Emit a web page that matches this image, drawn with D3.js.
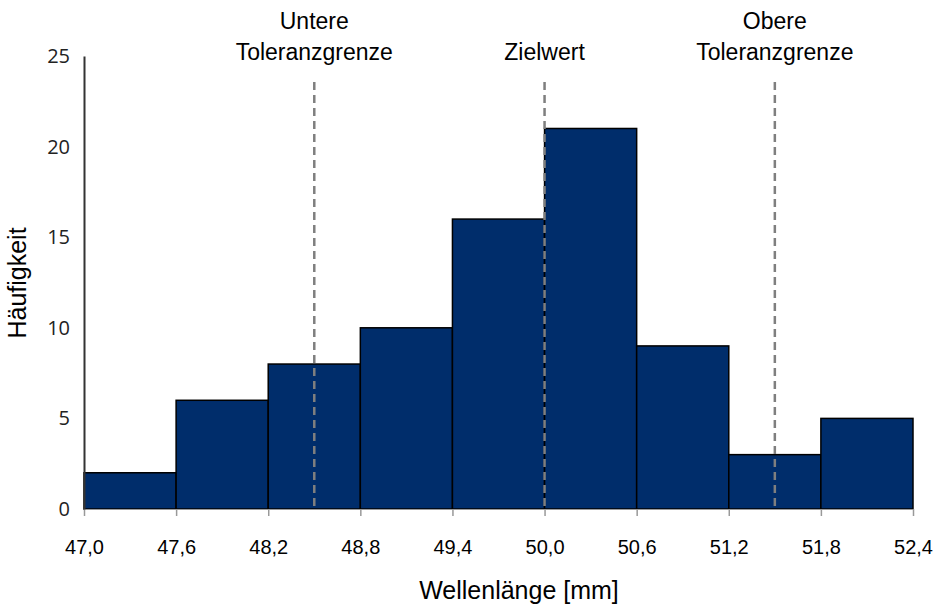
<!DOCTYPE html>
<html><head><meta charset="utf-8">
<script src="https://cdn.jsdelivr.net/npm/d3@7"></script>
<style>body{margin:0;background:#fff}svg{display:block}</style>
</head><body>
<svg id="c" width="945" height="616"></svg>
<script>
const binEdges = [47.0, 47.6, 48.2, 48.8, 49.4, 50.0, 50.6, 51.2, 51.8, 52.4];
const counts = [2, 6, 8, 10, 16, 21, 9, 3, 5];
const yTicks = [0, 5, 10, 15, 20, 25];
const refValues = [48.5, 50.0, 51.5];
const refLabels = [["Untere", "Toleranzgrenze"], ["Zielwert"], ["Obere", "Toleranzgrenze"]];
const xTitle = "Wellenlänge [mm]";
const yTitle = "Häufigkeit";

const svg = d3.select("#c");
const font = "'Liberation Sans', Arial, sans-serif";
const x = d3.scaleLinear().domain([47.0, 52.4]).range([84, 913]);
const y = d3.scaleLinear().domain([0, 25]).range([509, 56]);

const bins = counts.map((c, i) => ({x0: binEdges[i], x1: binEdges[i + 1], c}));

svg.append("g").selectAll("rect").data(bins).join("rect")
  .attr("x", d => x(d.x0)).attr("width", d => x(d.x1) - x(d.x0))
  .attr("y", d => y(d.c)).attr("height", d => y(0) - y(d.c))
  .attr("fill", "#002d6b").attr("stroke", "#000").attr("stroke-width", 1.5);

// x axis
const fmt = d => d.toFixed(1).replace(".", ",");
const xa = svg.append("g").attr("transform", `translate(0,${y(0)})`)
  .call(d3.axisBottom(x).tickValues(binEdges).tickFormat(fmt).tickSize(7).tickPadding(24));
xa.select(".domain").attr("stroke", "#999").attr("stroke-width", 1);
xa.selectAll(".tick line").attr("stroke", "#999").attr("stroke-width", 1.5);
xa.selectAll("text").attr("font-family", font).attr("font-size", 20).attr("fill", "#000");

// y axis
const ya = svg.append("g").attr("transform", `translate(${x(47.0)},0)`)
  .call(d3.axisLeft(y).tickValues(yTicks).tickSize(0).tickPadding(14));
ya.select(".domain").attr("stroke", "#333").attr("stroke-width", 2);
ya.selectAll("text").attr("font-family", "'Open Sans', 'Noto Sans', sans-serif").attr("font-size", 20).attr("fill", "#222");

// reference lines
const refs = refValues.map((v, i) => ({v, lab: refLabels[i]}));
svg.append("g").selectAll("line").data(refs).join("line")
  .attr("x1", d => x(d.v)).attr("x2", d => x(d.v))
  .attr("y1", 82).attr("y2", y(0))
  .attr("stroke", "#7f7f7f").attr("stroke-width", 2.5).attr("stroke-dasharray", "8,5");

const lg = svg.append("g").selectAll("text").data(refs).join("text")
  .attr("x", d => x(d.v)).attr("text-anchor", "middle")
  .attr("font-family", font).attr("font-size", 23).attr("fill", "#000");
lg.each(function(d) {
  const t = d3.select(this);
  const n = d.lab.length;
  d.lab.forEach((s, k) => {
    t.append("tspan").attr("x", x(d.v)).attr("y", 60 - (n - 1 - k) * 31).text(s);
  });
});

// titles
svg.append("text").attr("x", 519).attr("y", 599).attr("text-anchor", "middle")
  .attr("font-family", font).attr("font-size", 25).attr("fill", "#000").text(xTitle);
svg.append("text").attr("transform", "translate(26,283) rotate(-90)").attr("text-anchor", "middle")
  .attr("font-family", font).attr("font-size", 25).attr("fill", "#000").text(yTitle);
</script>
</body></html>
